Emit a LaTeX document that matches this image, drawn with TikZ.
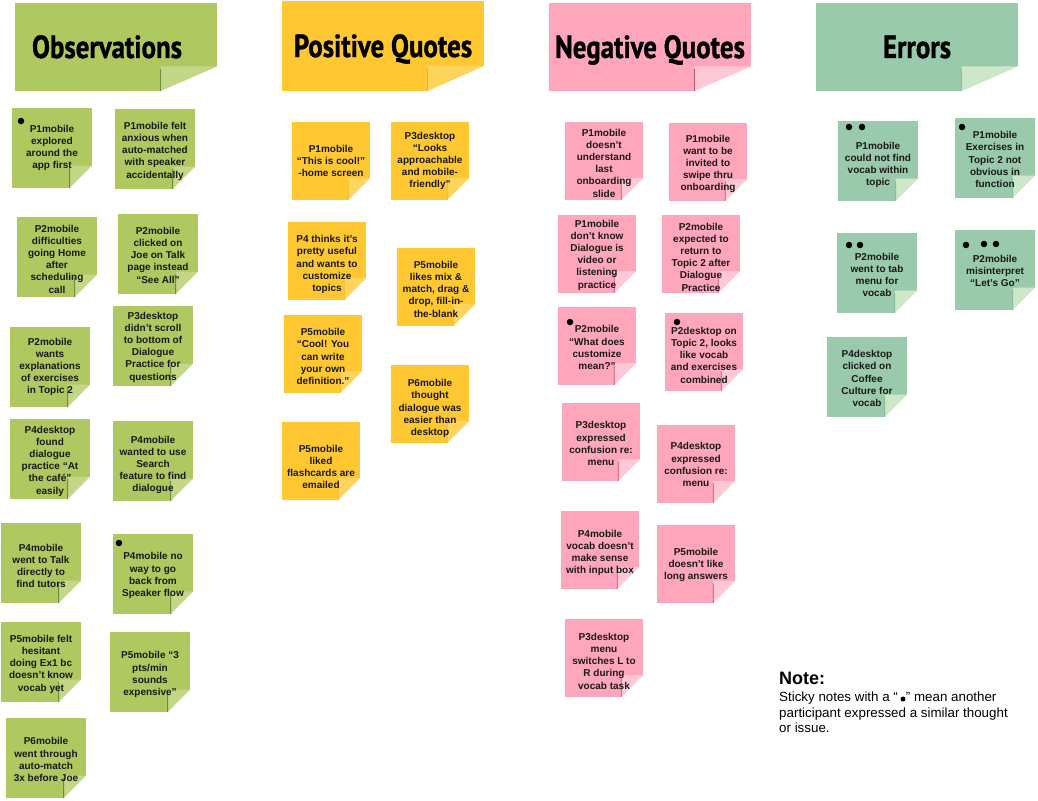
\documentclass[tikz,border=0pt]{standalone}
\usepackage{fontspec}
\setmainfont{Liberation Sans}
\newfontfamily\titlefont[FakeStretch=0.84,FakeBold=1]{PT Sans}
\definecolor{stickygreen}{RGB}{175, 200, 95}
\definecolor{stickygreenfold}{RGB}{195, 215, 135}
\definecolor{stickygreenline}{RGB}{110, 140, 70}
\definecolor{stickyyellow}{RGB}{255, 200, 50}
\definecolor{stickyyellowfold}{RGB}{255, 212, 90}
\definecolor{stickyyellowline}{RGB}{240, 180, 40}
\definecolor{stickypink}{RGB}{255, 166, 189}
\definecolor{stickypinkfold}{RGB}{255, 200, 215}
\definecolor{stickypinkline}{RGB}{190, 80, 110}
\definecolor{stickyteal}{RGB}{154, 202, 172}
\definecolor{stickytealfold}{RGB}{205, 232, 200}
\definecolor{stickytealline}{RGB}{140, 190, 160}
\usetikzlibrary{
  calc,
  positioning,
}
% pushes a note's text down by #1 pt
\newcommand{\dropby}[1]{\rule{0pt}{\dimexpr7.3pt+#1pt+#1pt\relax}}
\tikzset{
  sticky/.style={
    rectangle,inner sep=0pt,minimum width=80,minimum height=80,align=center,
    fill=#1,font=\fontsize{10}{12.2}\selectfont\bfseries,text=black!90,
    path picture={
      \coordinate (fa) at ($(path picture bounding box.south west)!0.72!(path picture bounding box.south east)$);
      \coordinate (fb) at ($(path picture bounding box.south east)!0.28!(path picture bounding box.north east)$);
      \coordinate (fc) at (fa |- fb);
      \fill[white] (fa) -- (fb) -- (path picture bounding box.south east) -- cycle;
      \fill[#1fold] (fa) -- (fb) -- (fc) -- cycle;
      \draw[#1line,line width=0.8] (fa) -- ($(fa)!0.9!(fc)$);
    },
  },
  narrow/.style={minimum width=78,minimum height=78},
  titlenote/.style={
    sticky=#1,minimum width=202,minimum height=88,
    text height=22,text depth=0,
    font=\titlefont\fontsize{32}{34}\selectfont\bfseries,text=black,
  },
  dot/.style={circle,fill=black,inner sep=0pt,minimum size=6.5},
}
\begin{document}
\begin{tikzpicture}[x=1pt,y=-1pt]
  \useasboundingbox (0,0) rectangle (1038,800);

  % headers
  \node[titlenote=stickygreen]  (obs) at (116,47) {\hspace*{-18pt}Observations};
  \node[titlenote=stickyyellow,minimum height=90] (pos) at (383,46) {Positive Quotes};
  \node[titlenote=stickypink]   (neg) at (650,47) {Negative Quotes};
  \node[titlenote=stickyteal]   (err) at (917,47) {Errors};

  % observations
  \node[sticky=stickygreen] (o1)  at (52,148)  {P1mobile\\explored\\around the\\app first};
  \node[sticky=stickygreen] (o2)  at (155,149) {\dropby{2}P1mobile felt\\anxious when\\auto-matched\\with speaker\\accidentally};
  \node[sticky=stickygreen] (o3)  at (57,257)  {\dropby{2}P2mobile\\difficulties\\going Home\\after\\scheduling\\call};
  \node[sticky=stickygreen] (o4)  at (158,254) {\dropby{1}P2mobile\\clicked on\\Joe on Talk\\page instead\\“See All”};
  \node[sticky=stickygreen] (o5)  at (50,367)  {P2mobile\\wants\\explanations\\of exercises\\in Topic 2};
  \node[sticky=stickygreen] (o6)  at (153,346) {\dropby{1}P3desktop\\didn't scroll\\to bottom of\\Dialogue\\Practice for\\questions};
  \node[sticky=stickygreen] (o7)  at (50,459)  {\dropby{2}P4desktop\\found\\dialogue\\practice “At\\the café”\\easily};
  \node[sticky=stickygreen] (o8)  at (153,461) {\dropby{4}P4mobile\\wanted to use\\Search\\feature to find\\dialogue};
  \node[sticky=stickygreen] (o9)  at (41,563)  {\dropby{3}P4mobile\\went to Talk\\directly to\\find tutors};
  \node[sticky=stickygreen] (o10) at (153,574) {\dropby{1.5}P4mobile no\\way to go\\back from\\Speaker flow};
  \node[sticky=stickygreen] (o11) at (41,662)  {\dropby{2}P5mobile felt\\hesitant\\doing Ex1 bc\\doesn't know\\vocab yet};
  \node[sticky=stickygreen] (o12) at (150,672) {\dropby{2.5}P5mobile “3\\pts/min\\sounds\\expensive”};
  \node[sticky=stickygreen] (o13) at (46,758)  {\dropby{1.5}P6mobile\\went through\\auto-match\\3x before Joe};

  % positive quotes
  \node[sticky=stickyyellow,narrow] (p1) at (331,161) {P1mobile\\“This is cool!”\\-home screen};
  \node[sticky=stickyyellow,narrow] (p2) at (430,161) {P3desktop\\“Looks\\approachable\\and mobile-\\friendly”};
  \node[sticky=stickyyellow,narrow] (p3) at (327,261) {\dropby{3.5}P4 thinks it's\\pretty useful\\and wants to\\customize\\topics};
  \node[sticky=stickyyellow,narrow] (p4) at (436,287) {\dropby{2}P5mobile\\likes mix \&\\match, drag \&\\drop, fill-in-\\the-blank};
  \node[sticky=stickyyellow,narrow] (p5) at (323,354) {\dropby{2.5}P5mobile\\“Cool! You\\can write\\your own\\definition.”};
  \node[sticky=stickyyellow,narrow] (p6) at (430,404) {\dropby{4.5}P6mobile\\thought\\dialogue was\\easier than\\desktop};
  \node[sticky=stickyyellow,narrow] (p7) at (321,461) {\dropby{6}P5mobile\\liked\\flashcards are\\emailed};

  % negative quotes
  \node[sticky=stickypink,narrow] (n1)  at (604,161) {\dropby{2}P1mobile\\doesn't\\understand\\last\\onboarding\\slide};
  \node[sticky=stickypink,narrow] (n2)  at (708,162) {\dropby{2}P1mobile\\want to be\\invited to\\swipe thru\\onboarding};
  \node[sticky=stickypink,narrow] (n3)  at (597,254) {\dropby{1}P1mobile\\don't know\\Dialogue is\\video or\\listening\\practice};
  \node[sticky=stickypink,narrow] (n4)  at (701,254) {\dropby{3}P2mobile\\expected to\\return to\\Topic 2 after\\Dialogue\\Practice};
  \node[sticky=stickypink,narrow] (n5)  at (597,346) {\dropby{1.5}P2mobile\\“What does\\customize\\mean?”};
  \node[sticky=stickypink,narrow] (n6)  at (704,352) {\dropby{3}P2desktop on\\Topic 2, looks\\like vocab\\and exercises\\combined};
  \node[sticky=stickypink,narrow] (n7)  at (601,442) {\dropby{1.5}P3desktop\\expressed\\confusion re:\\menu};
  \node[sticky=stickypink,narrow] (n8)  at (696,464) {\dropby{0.5}P4desktop\\expressed\\confusion re:\\menu};
  \node[sticky=stickypink,narrow] (n9)  at (600,550) {\dropby{3}P4mobile\\vocab doesn't\\make sense\\with input box};
  \node[sticky=stickypink,narrow] (n10) at (696,564) {\dropby{1}P5mobile\\doesn't like\\long answers};
  \node[sticky=stickypink,narrow] (n11) at (604,658) {\dropby{3}P3desktop\\menu\\switches L to\\R during\\vocab task};

  % errors
  \node[sticky=stickyteal] (e1) at (878,161) {\dropby{4}P1mobile\\could not find\\vocab within\\topic};
  \node[sticky=stickyteal] (e2) at (995,158) {\dropby{1.5}P1mobile\\Exercises in\\Topic 2 not\\obvious in\\function};
  \node[sticky=stickyteal] (e3) at (877,273) {\dropby{2}P2mobile\\went to tab\\menu for\\vocab};
  \node[sticky=stickyteal] (e4) at (995,270) {\dropby{1}P2mobile\\misinterpret\\“Let's Go”};
  \node[sticky=stickyteal] (e5) at (867,377) {\dropby{1.5}P4desktop\\clicked on\\Coffee\\Culture for\\vocab};

  % dots
  \node[dot] (d1)  at (21,121)  {};
  \node[dot] (d2)  at (119,543) {};
  \node[dot] (d3)  at (570,322) {};
  \node[dot] (d4)  at (677,322) {};
  \node[dot] (d5)  at (849,127) {};
  \node[dot] (d6)  at (862,127) {};
  \node[dot] (d7)  at (962,127) {};
  \node[dot] (d8)  at (849,245) {};
  \node[dot] (d9)  at (860,245) {};
  \node[dot] (d10) at (966,245) {};
  \node[dot] (d11) at (984,244) {};
  \node[dot] (d12) at (996,244) {};
  \node[dot,minimum size=5] (d13) at (903,699) {};

  % note
  \node[inner sep=0pt,anchor=north west,font=\fontsize{18}{19}\selectfont\bfseries] (notehead) at (779,672) {Note:};
  \node[inner sep=0pt,align=left,font=\fontsize{13.35}{15.5}\selectfont] (notebody) [below=7pt of notehead.south west,anchor=north west]
    {Sticky notes with a “\hspace{8pt}” mean another\\participant expressed a similar thought\\or issue.};
\end{tikzpicture}
\end{document}
